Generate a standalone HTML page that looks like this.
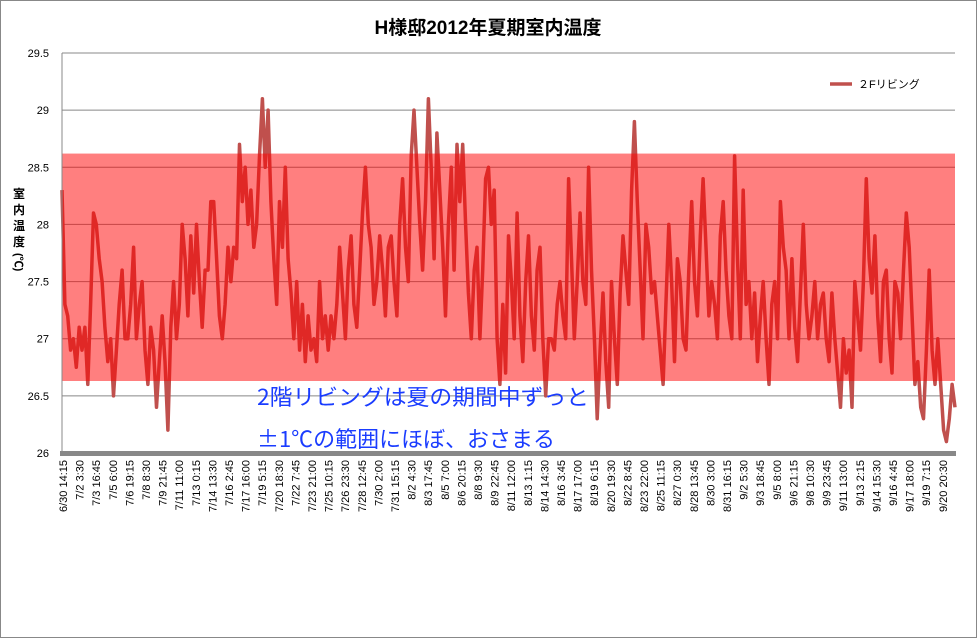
<!DOCTYPE html>
<html><head><meta charset="utf-8"><style>
body{margin:0;background:#fff;}
svg{display:block;font-family:"Liberation Sans","Noto Sans CJK JP",sans-serif;}
</style></head><body>
<svg id="chart" width="977" height="638" viewBox="0 0 977 638">
<rect x="0.5" y="0.5" width="976" height="637" fill="#fff" stroke="#888"/>
<text x="488" y="34" text-anchor="middle" font-size="19" font-weight="bold" fill="#000">H様邸2012年夏期室内温度</text>
<g id="grid"></g>
<g id="yticks"></g>
<g id="xticks"></g>
<path id="series" fill="none" stroke="#c0504d" stroke-width="3.5" stroke-linejoin="round"/>
<rect id="band" fill="rgba(255,0,0,0.5)"/>
<line x1="62" y1="53" x2="62" y2="453" stroke="#888"/>
<rect x="60" y="451" width="896" height="5" fill="#888"/>
<g font-size="12" font-weight="bold">
<text x="19" y="198" text-anchor="middle">室</text>
<text x="19" y="214" text-anchor="middle">内</text>
<text x="19" y="230" text-anchor="middle">温</text>
<text x="19" y="246" text-anchor="middle">度</text>
<text x="15" y="253" font-size="11" transform="rotate(90 15 253)">(℃)</text>
</g>
<g>
<line x1="830" y1="84" x2="852" y2="84" stroke="#c0504d" stroke-width="3.5"/>
<text x="858" y="88" font-size="11" fill="#000">２Fリビング</text>
</g>
<text x="257" y="405" font-size="22" fill="#1a3cff" font-family="'Noto Sans CJK JP',sans-serif" textLength="332" lengthAdjust="spacingAndGlyphs">2階リビングは夏の期間中ずっと</text>
<text x="257" y="447" font-size="22" fill="#1a3cff" font-family="'Noto Sans CJK JP',sans-serif" textLength="298" lengthAdjust="spacingAndGlyphs">±1℃の範囲にほぼ、おさまる</text>
</svg>
<script>
const yTicks=[26,26.5,27,27.5,28,28.5,29,29.5];
const yTickLabels=["26","26.5","27","27.5","28","28.5","29","29.5"];
const xLabels=["6/30 14:15","7/2 3:30","7/3 16:45","7/5 6:00","7/6 19:15","7/8 8:30","7/9 21:45","7/11 11:00","7/13 0:15","7/14 13:30","7/16 2:45","7/17 16:00","7/19 5:15","7/20 18:30","7/22 7:45","7/23 21:00","7/25 10:15","7/26 23:30","7/28 12:45","7/30 2:00","7/31 15:15","8/2 4:30","8/3 17:45","8/5 7:00","8/6 20:15","8/8 9:30","8/9 22:45","8/11 12:00","8/13 1:15","8/14 14:30","8/16 3:45","8/17 17:00","8/19 6:15","8/20 19:30","8/22 8:45","8/23 22:00","8/25 11:15","8/27 0:30","8/28 13:45","8/30 3:00","8/31 16:15","9/2 5:30","9/3 18:45","9/5 8:00","9/6 21:15","9/8 10:30","9/9 23:45","9/11 13:00","9/13 2:15","9/14 15:30","9/16 4:45","9/17 18:00","9/19 7:15","9/20 20:30"];
const bandRange=[26.63,28.62];
const temps=[28.3,27.3,27.2,26.9,27.0,26.75,27.1,26.9,27.1,26.6,27.3,28.1,28.0,27.7,27.5,27.1,26.8,27.0,26.5,26.9,27.3,27.6,27.0,27.0,27.3,27.8,27.0,27.3,27.5,26.9,26.6,27.1,26.9,26.4,26.8,27.2,26.8,26.2,27.1,27.5,27.0,27.3,28.0,27.7,27.2,27.9,27.4,28.0,27.5,27.1,27.6,27.6,28.2,28.2,27.7,27.2,27.0,27.3,27.8,27.5,27.8,27.7,28.7,28.2,28.5,28.0,28.3,27.8,28.0,28.6,29.1,28.5,29.0,28.2,27.7,27.3,28.2,27.8,28.5,27.7,27.4,27.0,27.5,26.9,27.3,26.8,27.2,26.9,27.0,26.8,27.5,27.0,27.2,26.9,27.2,27.0,27.3,27.8,27.4,27.0,27.6,27.9,27.3,27.1,27.6,28.1,28.5,28.0,27.8,27.3,27.5,27.9,27.6,27.2,27.8,27.9,27.5,27.2,28.0,28.4,27.8,27.5,28.6,29.0,28.5,28.0,27.6,28.2,29.1,28.5,27.7,28.8,28.3,27.8,27.2,28.0,28.5,27.6,28.7,28.2,28.7,28.0,27.4,27.0,27.6,27.8,27.0,27.6,28.4,28.5,28.0,28.3,27.0,26.6,27.3,26.7,27.9,27.5,27.0,
28.1,27.2,26.8,27.5,27.9,27.2,26.9,27.6,27.8,27.0,26.5,27.0,27.0,26.9,27.3,27.5,27.2,27.0,28.4,27.7,27.0,27.5,28.1,27.5,27.3,28.5,27.6,27.0,26.3,26.9,27.4,26.8,26.4,27.5,27.0,26.6,27.4,27.9,27.6,27.3,28.3,28.9,28.2,27.6,27.0,28.0,27.8,27.4,27.5,27.2,26.9,26.6,27.3,28.0,27.5,26.8,27.7,27.5,27.0,26.9,27.6,28.2,27.5,27.2,27.9,28.4,27.8,27.2,27.5,27.3,27.0,27.9,28.2,27.6,27.2,27.0,28.6,27.7,27.0,28.3,27.3,27.5,27.0,27.4,26.8,27.2,27.5,27.0,26.6,27.3,27.5,27.0,28.2,27.8,27.6,27.0,27.7,27.1,26.8,27.4,28.0,27.3,27.0,27.2,27.5,27.0,27.3,27.4,27.0,26.8,27.4,27.0,26.7,26.4,27.0,26.7,26.9,26.4,27.5,27.2,26.9,27.5,28.4,27.7,27.4,27.9,27.2,26.8,27.5,27.6,27.0,26.7,27.5,27.4,27.0,27.6,28.1,27.8,27.2,26.6,26.8,26.4,26.3,26.9,27.6,26.9,26.6,27.0,26.6,26.2,26.1,26.3,26.6,26.4];

const NS="http://www.w3.org/2000/svg";
const X0=62,X1=955,Y0=453,Y1=53,VMIN=26,VMAX=29.5;
function yScale(v){return Y0-(v-VMIN)/(VMAX-VMIN)*(Y0-Y1);}
function xSeries(i){return X0+i*(X1-X0)/(temps.length-1);}
function xLabel(i){return 63+i*16.6;}
const grid=document.getElementById('grid'),yt=document.getElementById('yticks'),xt=document.getElementById('xticks');
yTicks.forEach((v,i)=>{
  if(v>VMIN){
    const l=document.createElementNS(NS,'line');
    
    
    l.setAttribute('x1',X0);l.setAttribute('x2',X1);
    l.setAttribute('y1',yScale(v));l.setAttribute('y2',yScale(v));
    l.setAttribute('stroke','#888');l.setAttribute('stroke-width','1');
    grid.appendChild(l);
  }
  const t=document.createElementNS(NS,'text');
  
  
  t.setAttribute('x',49);t.setAttribute('y',yScale(v)+4);
  t.setAttribute('text-anchor','end');t.setAttribute('font-size','11');
  t.textContent=yTickLabels[i];
  yt.appendChild(t);
});
xLabels.forEach((s,i)=>{
  const t=document.createElementNS(NS,'text');
  
  
  const x=xLabel(i)+4,y=460;
  t.setAttribute('transform','translate('+x+','+y+') rotate(-90)');
  t.setAttribute('text-anchor','end');t.setAttribute('font-size','11');
  t.textContent=s;
  xt.appendChild(t);
});
let d='';
temps.forEach((v,i)=>{d+=(i?'L':'M')+xSeries(i).toFixed(1)+' '+yScale(v).toFixed(1);});
document.getElementById('series').setAttribute('d',d);
const b=document.getElementById('band');
b.setAttribute('x',X0);b.setAttribute('width',X1-X0);
b.setAttribute('y',yScale(bandRange[1]));b.setAttribute('height',yScale(bandRange[0])-yScale(bandRange[1]));
</script>
</body></html>
